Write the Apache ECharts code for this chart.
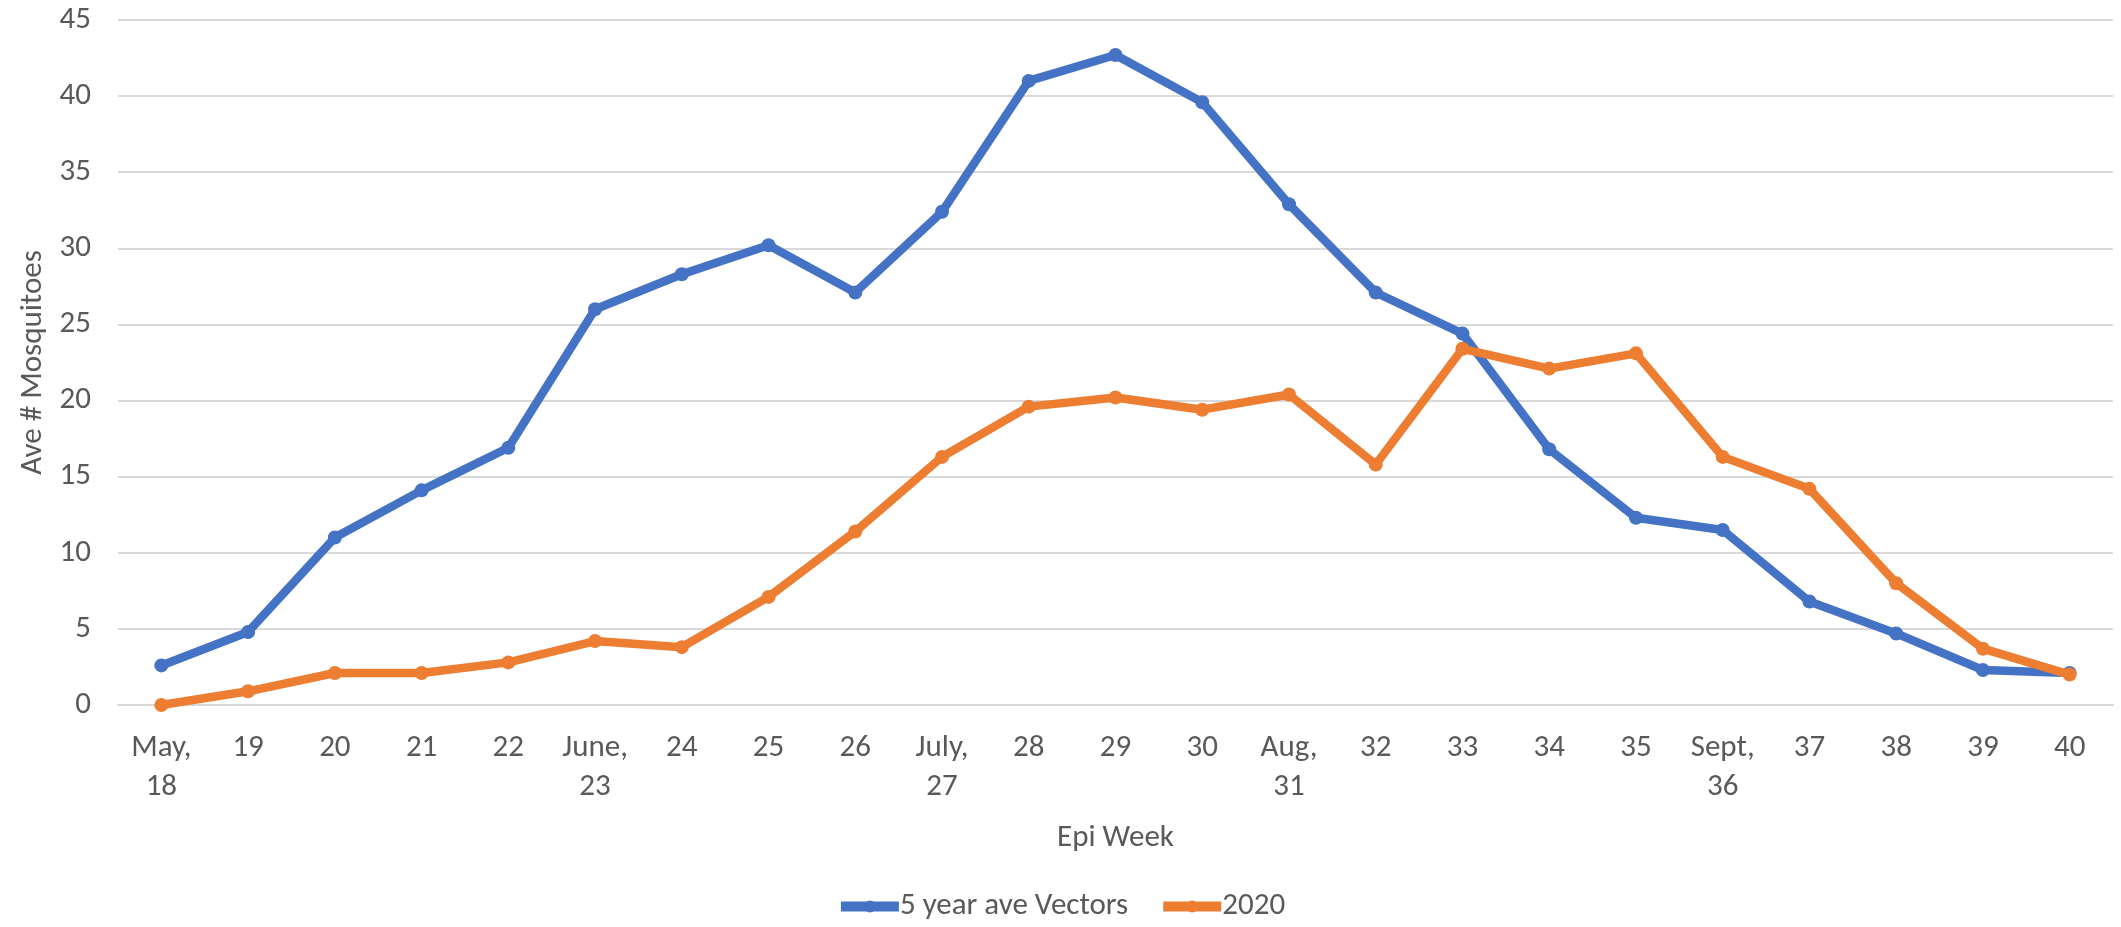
<!DOCTYPE html>
<html>
<head>
<meta charset="utf-8">
<script src="https://cdn.jsdelivr.net/npm/echarts@6/dist/echarts.min.js"></script>
<style>
html,body{margin:0;padding:0;background:#fff;}
#chart{width:2121px;height:927px;}
</style>
</head>
<body>
<div id="chart"></div>
<script>
const categories = ['May,\n18','19','20','21','22','June,\n23','24','25','26','July,\n27','28','29','30','Aug,\n31','32','33','34','35','Sept,\n36','37','38','39','40'];
const fiveYearAve = [2.6,4.8,11.0,14.1,16.9,26.0,28.3,30.2,27.1,32.4,41.0,42.7,39.6,32.9,27.1,24.4,16.8,12.3,11.5,6.8,4.7,2.3,2.1];
const year2020 = [0,0.9,2.1,2.1,2.8,4.2,3.8,7.1,11.4,16.3,19.6,20.2,19.4,20.4,15.8,23.4,22.1,23.1,16.3,14.2,8.0,3.7,2.0];
const seriesNames = ['5 year ave Vectors','2020'];

const font = 'Carlito, Lato, "Liberation Sans", sans-serif';
const txt = '#595959';
const fs = 31;
const chart = echarts.init(document.getElementById('chart'));
chart.setOption({
  animation:false,
  grid:{left:118,right:8,top:20,bottom:222,containLabel:false},
  legend:{
    data:seriesNames,
    bottom:0,
    left:'center',
    itemWidth:58,
    itemHeight:15,
    itemGap:30,
    lineStyle:{width:10},
    textStyle:{color:txt,fontSize:fs,fontFamily:font,padding:[0,0,0,-4]}
  },
  xAxis:{
    type:'category',
    data:categories,
    boundaryGap:true,
    name:'Epi Week',
    nameLocation:'middle',
    nameGap:118,
    nameTextStyle:{color:txt,fontSize:fs,fontFamily:font},
    axisLine:{show:true,lineStyle:{color:'#D9D9D9',width:2}},
    axisTick:{show:false},
    axisLabel:{color:txt,fontSize:fs,fontFamily:font,margin:24,lineHeight:39,interval:0}
  },
  yAxis:{
    type:'value',
    min:0,max:45,interval:5,
    name:'Ave # Mosquitoes',
    nameLocation:'middle',
    nameGap:68,
    nameTextStyle:{color:txt,fontSize:fs,fontFamily:font},
    axisLine:{show:false},
    axisTick:{show:false},
    axisLabel:{color:txt,fontSize:fs,fontFamily:font,margin:27},
    splitLine:{lineStyle:{color:'#D9D9D9',width:2}}
  },
  series:[
    {name:seriesNames[0],type:'line',data:fiveYearAve,symbol:'circle',symbolSize:14,
     lineStyle:{color:'#4472C4',width:8.5},itemStyle:{color:'#4472C4'},z:2},
    {name:seriesNames[1],type:'line',data:year2020,symbol:'circle',symbolSize:14,
     lineStyle:{color:'#ED7D31',width:8.5},itemStyle:{color:'#ED7D31'},z:3}
  ]
});
</script>
</body>
</html>
